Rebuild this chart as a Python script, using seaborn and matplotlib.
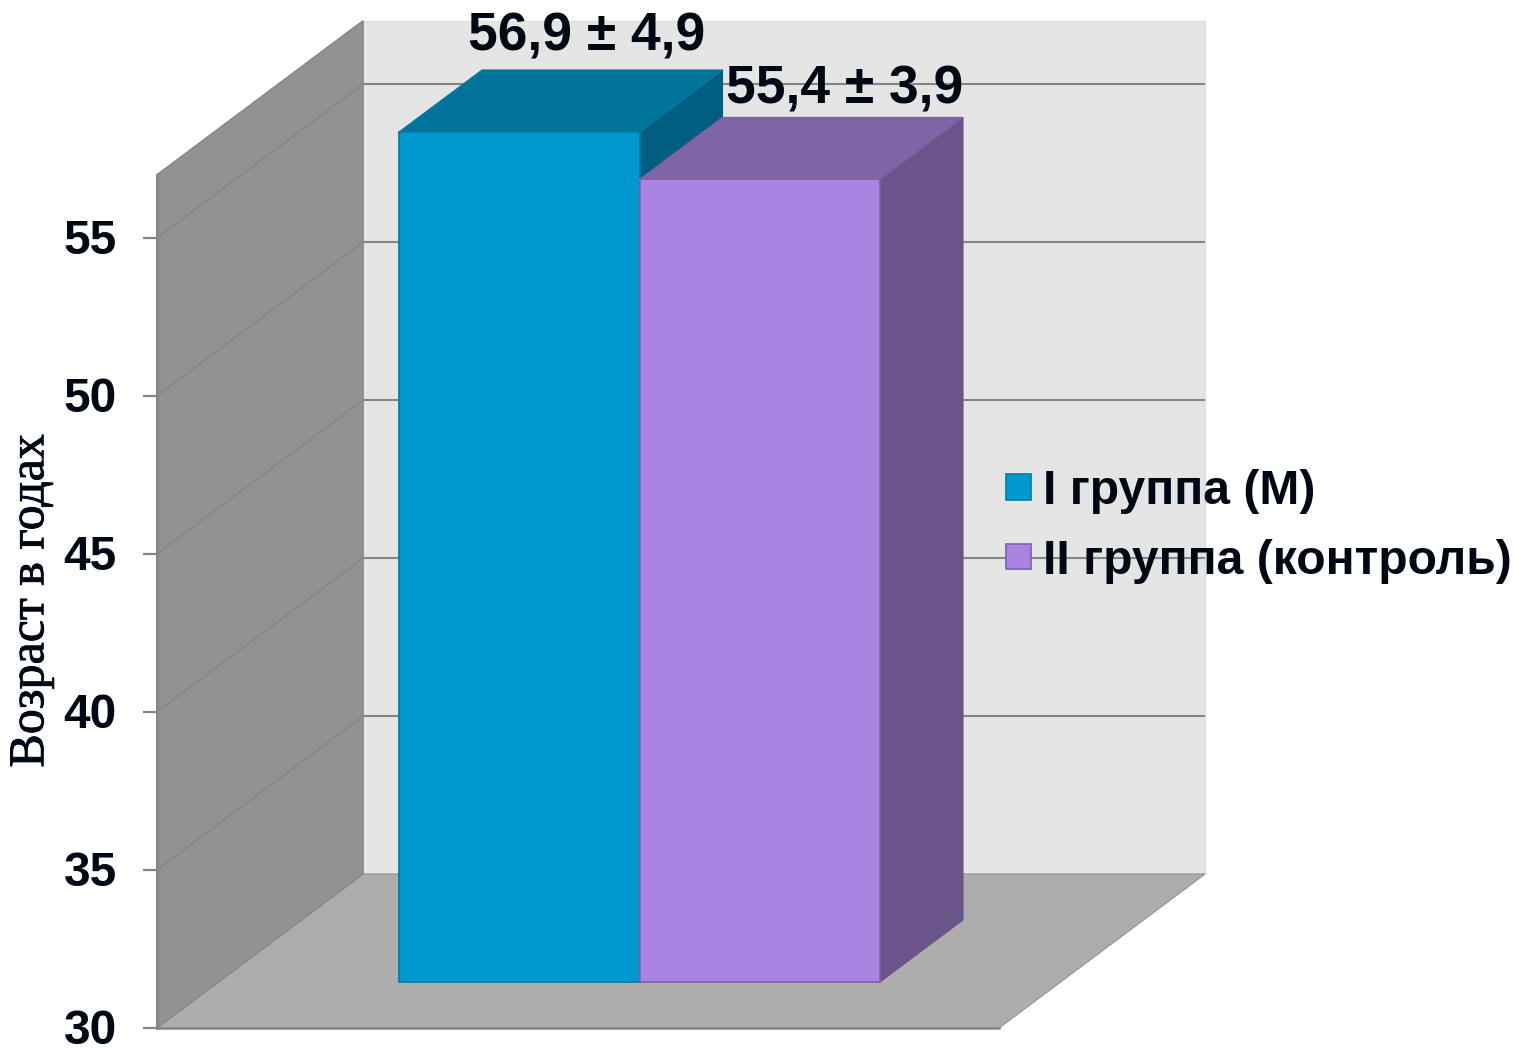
import matplotlib
matplotlib.use("Agg")
import matplotlib.pyplot as plt
from matplotlib.patches import Patch, Polygon
from matplotlib.patheffects import withStroke
from matplotlib.transforms import ScaledTranslation
import pandas as pd
import seaborn as sns

# Mean age and standard deviation per group
groups = ["I группа (М)", "II группа (контроль)"]
mean_age = [56.9, 55.4]
sd_age = [4.9, 3.9]
y_ticks = [30, 35, 40, 45, 50, 55]
y_min, y_max = 30, 57
y_label = "Возраст в годах"

front_colors = ["#0099CF", "#A984E2"]
top_colors = ["#00739B", "#7F65A6"]
side_colors = ["#005F80", "#6B5489"]
edge_colors = ["#007BA6", "#7D60A8"]
ink = "#000814"

sns.set_theme(style="white")
plt.rcParams["font.family"] = ["Liberation Sans", "DejaVu Sans"]

W, H = 1521, 1049
UNIT = 31.6  # pixels per year on the vertical axis


def box(left, right, bottom_from_top):
    return [left / W, 1 - bottom_from_top / H, (right - left) / W, (y_max - y_min) * UNIT / H]


fig = plt.figure(figsize=(W / 100, H / 100), dpi=100, facecolor="white")

# Front plane of the box: carries the value axis and the walls
frame = fig.add_axes(box(157, 999, 1028))
frame.set_xlim(0, 1)
frame.set_ylim(y_min, y_max)
frame.patch.set_visible(False)
wall_dx = 206 / 842
wall_dv = 154 / UNIT

grid_grey = "#858585"
left_wall = [(0, y_min), (wall_dx, y_min + wall_dv), (wall_dx, y_max + wall_dv), (0, y_max)]
floor = [(0, y_min), (1, y_min), (1 + wall_dx, y_min + wall_dv), (wall_dx, y_min + wall_dv)]
back_wall = [(wall_dx, y_min + wall_dv), (1 + wall_dx, y_min + wall_dv),
             (1 + wall_dx, y_max + wall_dv), (wall_dx, y_max + wall_dv)]
frame.add_patch(Polygon(back_wall, closed=True, fc="#E5E5E5", ec="#DEDEDE", lw=1, clip_on=False, zorder=1))
frame.add_patch(Polygon(left_wall, closed=True, fc="#929292", ec="#8A8A8A", lw=1.2, clip_on=False, zorder=1.2))
frame.add_patch(Polygon(floor, closed=True, fc="#ADADAD", ec="#9C9C9C", lw=1, clip_on=False, zorder=1.1))

for tick in y_ticks[1:]:
    frame.plot([wall_dx, 1 + wall_dx], [tick + wall_dv] * 2, color=grid_grey, lw=1.5,
               clip_on=False, zorder=1.3, solid_capstyle="butt")
    frame.plot([0, wall_dx], [tick, tick + wall_dv], color="#858585", lw=1.0,
               clip_on=False, zorder=1.3)

frame.set_xticks([])
frame.set_yticks(y_ticks)
frame.tick_params(axis="y", left=True, length=10, width=1.6, color=grid_grey, pad=19,
                  labelsize=34.5, labelcolor=ink)
nudge_up = ScaledTranslation(0, 1.5 / 72 * 0.72 * 100 / 100, fig.dpi_scale_trans)
for major in frame.yaxis.get_major_ticks():
    lab = major.label1
    lab.set_fontweight("bold")
    lab.set_verticalalignment("center_baseline")
    lab.set_transform(lab.get_transform() + nudge_up)
sns.despine(ax=frame, top=True, right=True)
for name in ("left", "bottom"):
    frame.spines[name].set_color(grid_grey)
    frame.spines[name].set_linewidth(1.8)
    frame.spines[name].set_zorder(1.4)
frame.set_ylabel(y_label, family="Liberation Serif", fontsize=36, color=ink, va="center",
                 path_effects=[withStroke(linewidth=0.6, foreground=ink)])
frame.yaxis.set_label_coords((31 - 157) / 842, (1028 - 601) / (27 * UNIT))

# Bars stand further into the box, so they get their own plane
bars = fig.add_axes(box(399, 880, 982), zorder=5)
bars.patch.set_visible(False)
df = pd.DataFrame({"group": groups, "age": mean_age})
sns.barplot(data=df, x="group", y="age", hue="group", palette=front_colors, width=1,
            dodge=False, legend=False, saturation=1, ax=bars, zorder=3)
bars.set_xlim(-0.5, 1.5)
bars.set_ylim(y_min, y_max)
bars.axis("off")

bar_dx = 83 / 240.5
bar_dv = 62 / UNIT
for i, patch in enumerate(bars.patches):
    value = mean_age[i]
    patch.set_y(y_min)
    patch.set_height(value - y_min)
    patch.set_edgecolor(edge_colors[i])
    patch.set_linewidth(1.2)
    patch.set_clip_on(False)
    patch.set_zorder(3)
    left, right = i - 0.5, i + 0.5
    top_face = [(left, value), (right, value), (right + bar_dx, value + bar_dv), (left + bar_dx, value + bar_dv)]
    side_face = [(right, y_min), (right + bar_dx, y_min + bar_dv), (right + bar_dx, value + bar_dv), (right, value)]
    layer = 1 + i * 0.5
    bars.add_patch(Polygon(side_face, closed=True, fc=side_colors[i], ec=side_colors[i], lw=0.8,
                           clip_on=False, zorder=layer))
    bars.add_patch(Polygon(top_face, closed=True, fc=top_colors[i], ec=edge_colors[i], lw=0.8,
                           clip_on=False, zorder=layer))

# Value labels, anchored to the top of each bar
label_offsets = [(67.5, 81), (84.5, 76)]
for i, (m, s) in enumerate(zip(mean_age, sd_age)):
    text = f"{m:.1f} ± {s:.1f}".replace(".", ",")
    off = label_offsets[i]
    bars.annotate(text, xy=(i, m), xytext=(off[0] * 0.72, off[1] * 0.72), textcoords="offset points",
                  ha="center", va="baseline", fontsize=38.4, fontweight="bold", color=ink,
                  annotation_clip=False, zorder=6)

handles = [Patch(facecolor=c, edgecolor=e, linewidth=1.2, label=g)
           for c, e, g in zip(front_colors, edge_colors, groups)]
fig.legend(handles=handles, loc="center left", bbox_to_anchor=(1001.5 / W, 1 - 526.5 / H), frameon=False,
           prop={"size": 34.6, "weight": "bold"}, labelcolor=ink, handlelength=0.52, handleheight=0.43,
           handletextpad=0.24, labelspacing=0.51, borderpad=0, borderaxespad=0.1)

fig.savefig("out.png", dpi=100, facecolor="white")
